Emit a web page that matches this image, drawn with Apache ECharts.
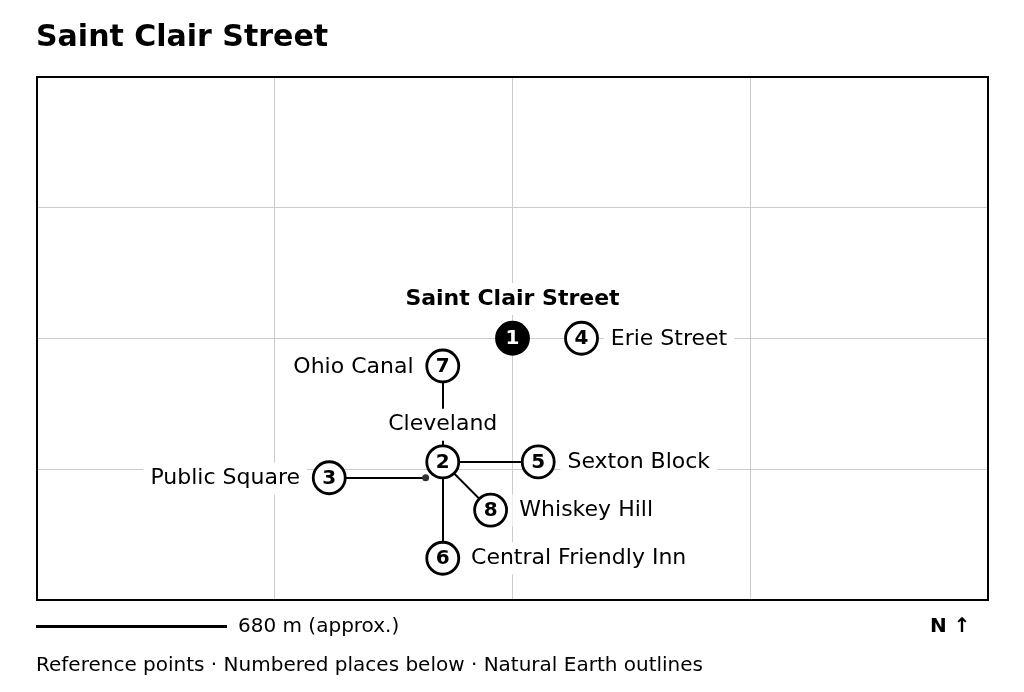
<!DOCTYPE html>
<html>
<head>
<meta charset="utf-8">
<title>Saint Clair Street</title>
<script src="https://cdn.jsdelivr.net/npm/echarts@6/dist/echarts.min.js"></script>
<style>
html, body { margin: 0; padding: 0; background: #fff; }
#main { width: 1024px; height: 692px; }
</style>
</head>
<body>
<div id="main"></div>
<script>
// places, in order of their number
var placeNames = ['Saint Clair Street', 'Cleveland', 'Public Square', 'Erie Street', 'Sexton Block', 'Central Friendly Inn', 'Ohio Canal', 'Whiskey Hill'];
var placeX = [2.0, 1.707, 1.23, 2.29, 2.108, 1.707, 1.707, 1.908];
var placeY = [2.0, 1.055, 0.934, 2.0, 1.055, 0.319, 1.788, 0.687];
// true position of place 3, its marker was moved off it
var anchorX = [1.635];
var anchorY = [0.934];
// leaders: from place number to place number
var leaderFrom = [2, 2, 2, 2];
var leaderTo = [5, 6, 7, 8];

var fontName = '"DejaVu Sans"';
var labelSides = ['top', 'top', 'left', 'right', 'right', 'right', 'left', 'right'];
var labelNudge = [[0, -1], [0, 1], [0, 1], [0, 1], [0, 0.5], [-1, 0], [0, 1], [-0.5, 0.5]];

var myChart = echarts.init(document.getElementById('main'));

var markerData = [];
var labelData = [];
for (var i = 0; i < placeNames.length; i++) {
	markerData.push({
		name: String(i + 1),
		value: [placeX[i], placeY[i]],
		itemStyle: { color: i == 0 ? '#000' : '#fff' },
		label: { color: i == 0 ? '#fff' : '#000' }
	});
	labelData.push({
		name: placeNames[i],
		value: [placeX[i], placeY[i]],
		label: {
			position: labelSides[i],
			offset: labelNudge[i],
			color: '#000',
			fontWeight: i == 0 ? 'bold' : 'normal'
		}
	});
}

var leaderData = [];
for (var j = 0; j < leaderFrom.length; j++) {
	var a = leaderFrom[j] - 1, b = leaderTo[j] - 1;
	leaderData.push({ coords: [[placeX[a], placeY[a]], [placeX[b], placeY[b]]] });
}
leaderData.push({ coords: [[placeX[2], placeY[2]], [anchorX[0], anchorY[0]]] });

var option = {
	animation: false,
	backgroundColor: '#fff',
	textStyle: { fontFamily: fontName },
	grid: { left: 36.5, top: 76.5, width: 952, height: 523.5, show: false },
	xAxis: {
		type: 'value', min: 0, max: 4, interval: 1,
		axisLine: { show: false }, axisTick: { show: false }, axisLabel: { show: false },
		splitLine: { show: true, lineStyle: { color: '#ccc', width: 1 } }
	},
	yAxis: {
		type: 'value', min: 0, max: 4, interval: 1,
		axisLine: { show: false }, axisTick: { show: false }, axisLabel: { show: false },
		splitLine: { show: true, lineStyle: { color: '#ccc', width: 1 } }
	},
	series: [
		{
			type: 'lines', coordinateSystem: 'cartesian2d', z: 2, silent: true,
			lineStyle: { color: '#000', width: 2, opacity: 1, curveness: 0 },
			data: leaderData
		},
		{
			type: 'scatter', z: 2, silent: true, symbolSize: 7,
			itemStyle: { color: '#333', opacity: 1 },
			data: [[anchorX[0], anchorY[0]]]
		},
		{
			type: 'scatter', z: 3, silent: true, symbolSize: 31.5,
			// opacity 1, the default 0.8 also fades the label and its box
			itemStyle: { color: 'rgba(0,0,0,0)', opacity: 1 },
			label: {
				show: true, formatter: '{b}', distance: 6.5,
				fontFamily: fontName, fontSize: 22, color: '#000',
				backgroundColor: '#fff', padding: [5, 7]
			},
			data: labelData
		},
		{
			type: 'scatter', z: 4, silent: true, symbolSize: 32,
			itemStyle: { borderColor: '#000', borderWidth: 2.8, opacity: 1 },
			label: {
				show: true, position: 'inside', formatter: '{b}', offset: [0, 1],
				fontFamily: fontName, fontSize: 20, fontWeight: 'bold'
			},
			data: markerData
		}
	],
	graphic: [
		{ type: 'rect', z: 10, shape: { x: 37, y: 77, width: 951, height: 523 }, style: { fill: null, stroke: '#000', lineWidth: 2 } },
		{ type: 'text', left: 36, top: 23, style: { text: 'Saint Clair Street', font: 'bold 30px ' + fontName, fill: '#000' } },
		{ type: 'rect', shape: { x: 36, y: 625, width: 191, height: 3 }, style: { fill: '#000' } },
		{ type: 'text', left: 238, top: 617, style: { text: '680 m (approx.)', font: '20px ' + fontName, fill: '#000' } },
		{ type: 'text', left: 930, top: 617, style: { text: 'N ↑', font: 'bold 20px ' + fontName, fill: '#000' } },
		{ type: 'text', left: 36, top: 656, style: { text: 'Reference points · Numbered places below · Natural Earth outlines', font: '20px ' + fontName, fill: '#000' } }
	]
};
myChart.setOption(option);
</script>
</body>
</html>
